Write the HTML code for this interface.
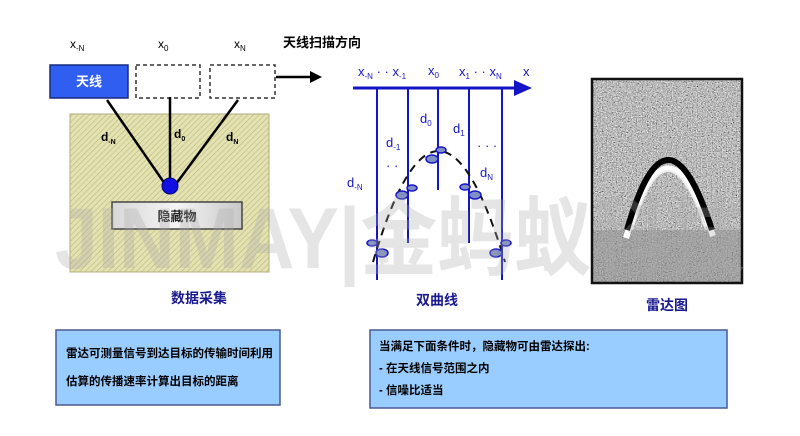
<!DOCTYPE html>
<html><head><meta charset="utf-8"><style>
body{margin:0;background:#fff;}
svg{display:block;}
</style></head><body>
<svg width="800" height="436" viewBox="0 0 800 436" xmlns="http://www.w3.org/2000/svg" font-family="Liberation Sans, Noto Sans CJK SC, sans-serif">
<defs>
<pattern id="hatch" width="4" height="4" patternUnits="userSpaceOnUse" patternTransform="rotate(45)">
<rect width="4" height="4" fill="#e4e2b0"/><line x1="0" y1="0" x2="0" y2="4" stroke="#b8b680" stroke-width="1.2"/>
</pattern>
<filter id="noise" x="0" y="0" width="100%" height="100%">
<feTurbulence type="fractalNoise" baseFrequency="0.8" numOctaves="2" seed="3"/>
<feColorMatrix type="matrix" values="0.33 0.33 0.33 0 0  0.33 0.33 0.33 0 0  0.33 0.33 0.33 0 0  0 0 0 0 1"/>
<feComponentTransfer><feFuncR type="linear" slope="2.2" intercept="-0.6"/><feFuncG type="linear" slope="2.2" intercept="-0.6"/><feFuncB type="linear" slope="2.2" intercept="-0.6"/></feComponentTransfer>
</filter>
<linearGradient id="obj" x1="0" x2="1"><stop offset="0" stop-color="#d8d8d8"/><stop offset="0.5" stop-color="#f4f4f4"/><stop offset="1" stop-color="#c8c8c8"/></linearGradient>
</defs>

<text x="70" y="48" font-size="12">x<tspan font-size="8" dy="3">-N</tspan></text>
<text x="158" y="48" font-size="12">x<tspan font-size="8" dy="3">0</tspan></text>
<text x="234" y="48" font-size="12">x<tspan font-size="8" dy="3">N</tspan></text>
<text x="283" y="47" font-size="13" font-weight="bold">天线扫描方向</text>
<rect x="50" y="65" width="78" height="33" fill="#2f5ef0" stroke="#1a2c80" stroke-width="1.5"/>
<text x="89" y="86" font-size="13" font-weight="bold" fill="#fff" text-anchor="middle">天线</text>
<rect x="136" y="65" width="64" height="33" fill="#fff" stroke="#333" stroke-width="1.5" stroke-dasharray="4,3"/>
<rect x="210" y="65" width="65" height="33" fill="#fff" stroke="#333" stroke-width="1.5" stroke-dasharray="4,3"/>
<line x1="276" y1="77" x2="312" y2="77" stroke="#000" stroke-width="2.5"/>
<polygon points="310,71 322,77 310,83" fill="#000"/>
<rect x="70" y="114" width="199" height="158" fill="url(#hatch)" stroke="#b0ae80"/>
<line x1="107" y1="100" x2="165" y2="184" stroke="#000" stroke-width="2.5"/>
<line x1="170" y1="97" x2="170" y2="182" stroke="#000" stroke-width="2.5"/>
<line x1="238" y1="100" x2="176" y2="184" stroke="#000" stroke-width="2.5"/>
<circle cx="170" cy="186" r="8" fill="#1010e0" stroke="#000080"/>
<text x="101" y="141" font-size="12" font-weight="bold">d<tspan font-size="7" dy="3">-N</tspan></text>
<text x="174" y="138" font-size="12" font-weight="bold">d<tspan font-size="7" dy="3">0</tspan></text>
<text x="226" y="141" font-size="12" font-weight="bold">d<tspan font-size="7" dy="3">N</tspan></text>
<rect x="112" y="202" width="130" height="27" fill="url(#obj)" stroke="#444" stroke-width="1.5"/>
<text x="177" y="221" font-size="13" font-weight="bold" text-anchor="middle" fill="#222">隐藏物</text>
<text x="199" y="303" font-size="14" font-weight="bold" text-anchor="middle" fill="#1a1a90">数据采集</text>

<g fill="#1515c8" font-size="13">
<text x="358" y="76">x<tspan font-size="8" dy="3">-N</tspan><tspan dy="-3"> · · x</tspan><tspan font-size="8" dy="3">-1</tspan></text>
<text x="428" y="75">x<tspan font-size="8" dy="3">0</tspan></text>
<text x="459" y="76">x<tspan font-size="8" dy="3">1</tspan><tspan dy="-3"> · · x</tspan><tspan font-size="8" dy="3">N</tspan></text>
<text x="523" y="76">x</text>
<text x="420" y="123">d<tspan font-size="8" dy="3">0</tspan></text>
<text x="453" y="133">d<tspan font-size="8" dy="3">1</tspan></text>
<text x="386" y="147">d<tspan font-size="8" dy="3">-1</tspan></text>
<text x="386" y="170">· ·</text>
<text x="477" y="150">· · ·</text>
<text x="480" y="177">d<tspan font-size="8" dy="3">N</tspan></text>
<text x="347" y="187">d<tspan font-size="8" dy="3">-N</tspan></text>
</g>
<line x1="353" y1="88" x2="518" y2="88" stroke="#1515c8" stroke-width="3"/>
<polygon points="514,80 532,88 514,96" fill="#1515c8"/>
<g stroke="#1515c8" stroke-width="2">
<line x1="377" y1="88" x2="377" y2="280"/>
<line x1="408" y1="88" x2="408" y2="243"/>
<line x1="438" y1="88" x2="438" y2="190"/>
<line x1="469" y1="88" x2="469" y2="243"/>
<line x1="502" y1="88" x2="502" y2="280"/>
</g>
<path d="M373,262 Q438,40 505,262" fill="none" stroke="#111" stroke-width="2" stroke-dasharray="8,6"/>
<g fill="#8090c0" stroke="#1515c8" stroke-width="1.5">
<ellipse cx="441" cy="150" rx="5" ry="3"/>
<ellipse cx="432" cy="159" rx="6" ry="4"/>
<ellipse cx="412" cy="188" rx="5" ry="3"/>
<ellipse cx="402" cy="195" rx="6" ry="4"/>
<ellipse cx="465" cy="187" rx="5" ry="3"/>
<ellipse cx="475" cy="195" rx="6" ry="4"/>
<ellipse cx="372" cy="243" rx="5" ry="3"/>
<ellipse cx="382" cy="253" rx="6" ry="4"/>
<ellipse cx="506" cy="243" rx="5" ry="3"/>
<ellipse cx="496" cy="253" rx="6" ry="4"/>
</g>
<text x="437" y="305" font-size="14" font-weight="bold" text-anchor="middle" fill="#1a1a90">双曲线</text>

<rect x="592" y="79" width="150" height="204" fill="#777"/>
<rect x="592" y="79" width="150" height="204" filter="url(#noise)"/>
<rect x="592" y="230" width="150" height="53" fill="#8a8a8a" opacity="0.5"/>
<path d="M626,238 Q667,100 713,236" fill="none" stroke="#fff" stroke-width="6"/>
<path d="M627,230 Q667,90 712,230" fill="none" stroke="#000" stroke-width="6"/>
<path d="M632,230 Q667,112 706,230" fill="none" stroke="#eee" stroke-width="2"/>
<rect x="592" y="79" width="150" height="204" fill="none" stroke="#111" stroke-width="2.5"/>
<text x="667" y="310" font-size="14" font-weight="bold" text-anchor="middle" fill="#1a1a90">雷达图</text>

<text x="55" y="268" font-size="86" font-weight="bold" fill="#aaa" opacity="0.3" textLength="690" lengthAdjust="spacingAndGlyphs">JINMAY|金蚂蚁科技</text>

<rect x="56" y="330" width="224" height="75" fill="#99ccff" stroke="#4a5a90" stroke-width="1.5"/>
<text x="66" y="357" font-size="11.5" font-weight="bold">雷达可测量信号到达目标的传输时间利用</text>
<text x="66" y="385" font-size="11.5" font-weight="bold">估算的传播速率计算出目标的距离</text>
<rect x="370" y="330" width="357" height="78" fill="#99ccff" stroke="#4a5a90" stroke-width="1.5"/>
<text x="379" y="350" font-size="11.5" font-weight="bold">当满足下面条件时，隐藏物可由雷达探出:</text>
<text x="379" y="372" font-size="11.5" font-weight="bold">- 在天线信号范围之内</text>
<text x="379" y="394" font-size="11.5" font-weight="bold">- 信噪比适当</text>
</svg>
</body></html>
